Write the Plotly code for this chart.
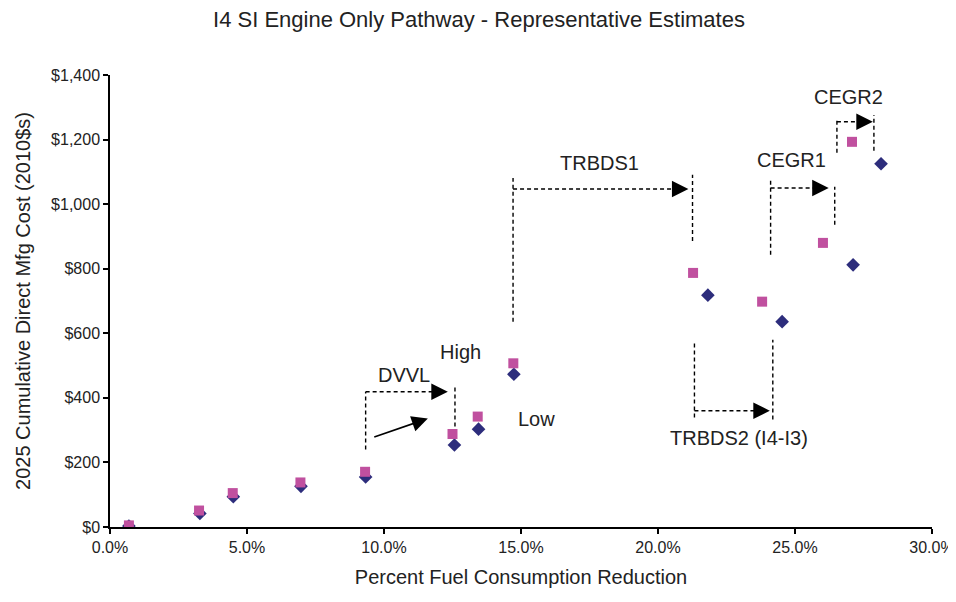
import plotly.graph_objects as go

# ---- data (percent fuel consumption reduction, cumulative cost $) ----
low_x = [0.69, 3.28, 4.50, 6.97, 9.33, 12.57, 13.45, 14.74, 21.82, 24.53, 27.12, 28.14]
low_y = [3, 42, 94, 126, 155, 254, 303, 473, 718, 636, 812, 1125]
high_x = [0.69, 3.25, 4.48, 6.95, 9.31, 12.50, 13.42, 14.72, 21.28, 23.80, 26.02, 27.08]
high_y = [5, 51, 105, 138, 171, 288, 342, 507, 787, 698, 880, 1193]

x_ticks = [0, 5, 10, 15, 20, 25, 30]
y_ticks = [0, 200, 400, 600, 800, 1000, 1200, 1400]

# brackets: name, left x, left y-range, bar y, tip x, right x, right y-range
brackets = [
    ("DVVL", 9.33, (240, 419), 419, 12.33, 12.59, (311, 435)),
    ("TRBDS1", 14.71, (636, 1081), 1047, 21.11, 21.26, (886, 1091)),
    ("TRBDS2", 21.33, (339, 571), 360, 24.08, 24.19, (333, 580)),
    ("CEGR1", 24.11, (843, 1078), 1050, 26.23, 26.45, (936, 1054)),
    ("CEGR2", 26.53, (1159, 1261), 1255, 27.84, 27.88, (1165, 1276)),
]
labels = [
    ("High", 12.81, 543),
    ("Low", 15.55, 336),
    ("DVVL", 10.72, 472),
    ("TRBDS1", 17.86, 1128),
    ("TRBDS2 (I4-I3)", 22.94, 277),
    ("CEGR1", 24.88, 1137),
    ("CEGR2", 26.97, 1332),
]
solid_arrow = ((9.59, 277), (11.60, 336))

FONT = "Liberation Sans, Arial, sans-serif"
TXT = "#222222"
W, H = 948, 594  # page body adds an 8px margin

fig = go.Figure()
fig.add_trace(go.Scatter(
    x=low_x, y=low_y, mode="markers", name="Low",
    marker=dict(symbol="diamond", size=10.5, color="#2D2D7C"),
))
fig.add_trace(go.Scatter(
    x=high_x, y=high_y, mode="markers", name="High",
    marker=dict(symbol="square", size=10, color="#C0509F"),
))

dash_line = dict(color="black", width=1.4, dash="4px,3px")
shapes = []
annotations = []
for name, lx, lyr, by, tipx, rx, ryr in brackets:
    shapes.append(dict(type="line", xref="x", yref="y", x0=lx, x1=lx, y0=lyr[0], y1=lyr[1], line=dash_line))
    shapes.append(dict(type="line", xref="x", yref="y", x0=lx, x1=tipx - 0.3, y0=by, y1=by, line=dash_line))
    shapes.append(dict(type="line", xref="x", yref="y", x0=rx, x1=rx, y0=ryr[0], y1=ryr[1], line=dash_line))
    annotations.append(dict(
        x=tipx, y=by, ax=tipx - 0.45, ay=by, xref="x", yref="y", axref="x", ayref="y",
        showarrow=True, arrowhead=2, arrowsize=2.2, arrowwidth=1.5, arrowcolor="black", text="",
    ))

annotations.append(dict(
    x=solid_arrow[1][0], y=solid_arrow[1][1], ax=solid_arrow[0][0], ay=solid_arrow[0][1],
    xref="x", yref="y", axref="x", ayref="y",
    showarrow=True, arrowhead=2, arrowsize=2.0, arrowwidth=1.6, arrowcolor="black", text="",
))
for t, x, y in labels:
    annotations.append(dict(
        x=x, y=y, xref="x", yref="y", text=t, showarrow=False,
        font=dict(family=FONT, size=20, color=TXT),
        xanchor="center", yanchor="middle",
    ))

fig.update_layout(
    width=W, height=H,
    margin=dict(l=102, r=24, t=67, b=75, autoexpand=False),
    paper_bgcolor="white", plot_bgcolor="white",
    showlegend=False,
    title=dict(
        text="I4 SI Engine Only Pathway - Representative Estimates",
        x=(479 - 8) / W, xref="container", xanchor="center",
        y=1.0, yref="container", yanchor="top",
        pad=dict(t=4),
        font=dict(family=FONT, size=22, color=TXT),
    ),
    shapes=shapes,
    annotations=annotations,
    font=dict(family=FONT, color=TXT),
)
fig.update_xaxes(
    range=[0, 30], tickvals=x_ticks, ticktext=[f"{v:.1f}%" for v in x_ticks],
    automargin=False,
    showgrid=False, zeroline=False, showline=True, linecolor="black", linewidth=1.5,
    ticks="outside", ticklen=5, tickwidth=1.5, tickcolor="black",
    tickfont=dict(family=FONT, size=16, color=TXT),
    title=dict(text="Percent Fuel Consumption Reduction", font=dict(family=FONT, size=20, color=TXT)),
)
fig.update_yaxes(
    range=[0, 1400], tickvals=y_ticks, ticktext=[f"${v:,}" for v in y_ticks],
    automargin=False,
    showgrid=False, zeroline=False, showline=True, linecolor="black", linewidth=1.5,
    ticks="outside", ticklen=5, tickwidth=1.5, tickcolor="black",
    tickfont=dict(family=FONT, size=16, color=TXT),
    title=dict(text="2025 Cumulative Direct Mfg Cost (2010$s)", font=dict(family=FONT, size=20, color=TXT)),
)

fig.write_html("out.html")
